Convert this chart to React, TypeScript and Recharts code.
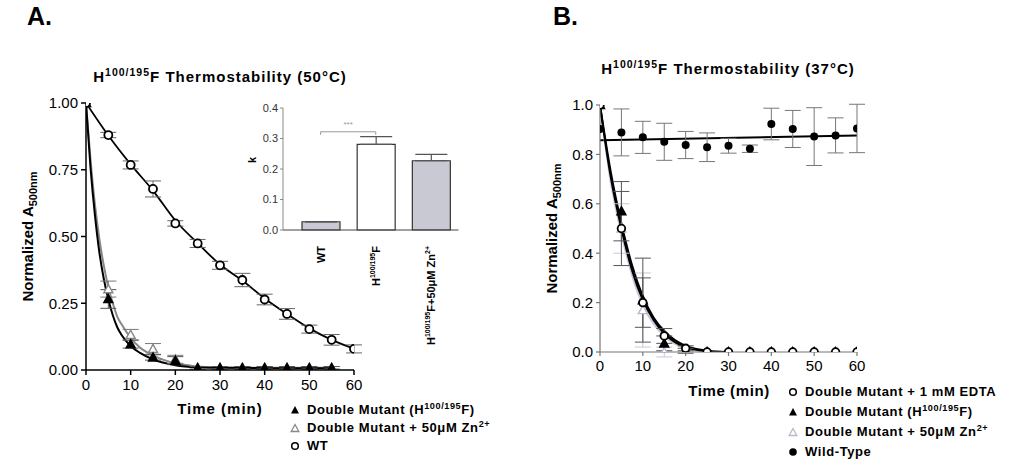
import React from 'react';
import {
  ComposedChart, BarChart, Bar, Cell, Line, Scatter, XAxis, YAxis,
  ErrorBar, ReferenceLine, Label,
} from 'recharts';

const FONT = "Arial, 'Liberation Sans', Helvetica, sans-serif";

// ---- Panel A: 50 °C ----
const timeA = [0, 5, 10, 15, 20, 25, 30, 35, 40, 45, 50, 55, 60];
const wtA = [1.0, 0.88, 0.768, 0.678, 0.549, 0.474, 0.392, 0.337, 0.264, 0.21, 0.153, 0.113, 0.079];
const wtAErr = [0, 0.01, 0.015, 0.03, 0.01, 0.015, 0.015, 0.025, 0.02, 0.02, 0.015, 0.02, 0.015];
const wtAFit = [1.0, 0.878, 0.77, 0.672, 0.56, 0.475, 0.395, 0.335, 0.268, 0.21, 0.156, 0.113, 0.08];

const timeMutA = [0, 5, 10, 15, 20, 25, 30, 35, 40, 45, 50, 55];
const dmA = [1.0, 0.266, 0.097, 0.047, 0.035, 0.008, 0.008, 0.008, 0.008, 0.008, 0.008, 0.008];
const dmAErr = [0, 0.035, 0.015, 0.01, 0.015, 0.005, 0.005, 0.005, 0.005, 0.005, 0.005, 0.005];
const znA = [1.0, 0.303, 0.132, 0.079, 0.04, 0.008, 0.008, 0.008, 0.008, 0.008, 0.008, 0.008];
const znAErr = [0, 0.03, 0.02, 0.02, 0.015, 0.005, 0.005, 0.005, 0.005, 0.005, 0.005, 0.005];

// fitted decay curves
const fitTimeA = [0, 1, 2, 3, 4, 5, 6, 7, 8, 10, 12, 15, 20, 25, 30, 40, 55];
const fitDmA = [1, 0.76, 0.58, 0.44, 0.34, 0.265, 0.205, 0.16, 0.13, 0.09, 0.065, 0.04, 0.018, 0.01, 0.008, 0.007, 0.007];
const fitZnA = [1, 0.79, 0.62, 0.49, 0.39, 0.31, 0.25, 0.2, 0.17, 0.12, 0.085, 0.055, 0.025, 0.013, 0.009, 0.008, 0.008];

// ---- inset: rate constants ----
const barCats = ['WT', 'H100/195F', 'H100/195F+Zn'];
const barK = [0.027, 0.281, 0.227];
const barErr = [0, 0.025, 0.021];

// ---- Panel B: 37 °C ----
const timeB = [0, 5, 10, 15, 20, 25, 30, 35, 40, 45, 50, 55, 60];
const wtB = [0.903, 0.889, 0.869, 0.851, 0.838, 0.829, 0.835, 0.823, 0.923, 0.903, 0.872, 0.877, 0.905];
const wtBErr = [0, 0.095, 0.065, 0.075, 0.055, 0.058, 0.03, 0.015, 0.064, 0.075, 0.117, 0.071, 0.098];
const edtaB = [1.0, 0.5, 0.2, 0.065, 0.015, 0, 0, 0, 0, 0, 0, 0, 0];
const edtaBErr = [0, 0.15, 0.1, 0.03, 0.01, 0, 0, 0, 0, 0, 0, 0, 0];
const dmB = [1.0, 0.57, 0.21, 0.035, 0.005, 0, 0, 0, 0, 0, 0, 0, 0];
const dmBErr = [0, 0.12, 0.17, 0.03, 0.01, 0, 0, 0, 0, 0, 0, 0, 0];
const znB = [1.0, 0.5, 0.17, 0, 0, 0, 0, 0, 0, 0, 0, 0, 0];
const znBErr = [0, 0.1, 0.15, 0.02, 0, 0, 0, 0, 0, 0, 0, 0, 0];

const fitTimeB = [0, 2.5, 5, 7.5, 10, 12.5, 15, 17.5, 20, 22.5, 25, 27.5, 30];
const fitEdtaB = [1, 0.71, 0.5, 0.33, 0.21, 0.13, 0.075, 0.04, 0.02, 0.009, 0.003, 0.001, 0];
const fitDmB = [1, 0.73, 0.52, 0.35, 0.225, 0.14, 0.085, 0.048, 0.025, 0.012, 0.005, 0.001, 0];
const fitZnB = [1, 0.69, 0.48, 0.31, 0.19, 0.115, 0.065, 0.033, 0.015, 0.006, 0.002, 0, 0];
const fitWtTimeB = [0, 60];
const fitWtB = [0.857, 0.877];

const rows = (xs: number[], ys: number[], es?: number[]) =>
  xs.map((t, i) => ({ t, y: ys[i], e: es ? es[i] : 0 }));

const barRows = barCats.map((name, i) => ({ name, k: barK[i], err: [0, barErr[i]] }));
const barFills = ['#c9c9d3', '#ffffff', '#c9c9d3'];

// marker shapes
const openCircle = (stroke: string, r = 4) => (p: any) =>
  <circle cx={p.cx} cy={p.cy} r={r} fill="#fff" stroke={stroke} strokeWidth={1.8} />;
const dot = (r = 4) => (p: any) => <circle cx={p.cx} cy={p.cy} r={r} fill="#000" />;
const tri = (fill: string, stroke: string, s = 4.5) => (p: any) => (
  <path d={`M${p.cx},${p.cy - s} L${p.cx + s},${p.cy + s * 0.8} L${p.cx - s},${p.cy + s * 0.8} Z`}
    fill={fill} stroke={stroke} strokeWidth={1.4} />
);

const yLabel = (x: number, cy: number) => (
  <text x={x} y={cy} transform={`rotate(-90 ${x} ${cy})`} textAnchor="middle"
    fontFamily={FONT} fontWeight="bold" fontSize={15} fill="#000">
    Normalized A<tspan fontSize={11} dy={4}>500nm</tspan>
  </text>
);

const Sup = ({ children }: { children: React.ReactNode }) => (
  <span style={{ fontSize: '0.7em', verticalAlign: 'super', lineHeight: 0 }}>{children}</span>
);

const BarTick = (p: any) => {
  const { x, y, payload } = p;
  const common = { textAnchor: 'end' as const, fontFamily: FONT, fontWeight: 'bold', fontSize: 11, fill: '#000', dy: 4 };
  let content: React.ReactNode = 'WT';
  if (payload.value === 'H100/195F') {
    content = <>H<tspan dy={-5} fontSize={7}>100/195</tspan><tspan dy={5}>F</tspan></>;
  } else if (payload.value === 'H100/195F+Zn') {
    content = <>H<tspan dy={-5} fontSize={7}>100/195</tspan><tspan dy={5}>F+50μM Zn</tspan><tspan dy={-5} fontSize={7}>2+</tspan></>;
  }
  return (
    <g transform={`translate(${x},${y + 8}) rotate(-90)`}>
      <text x={0} y={0} {...common}>{content}</text>
    </g>
  );
};

type LegendItem = { icon: React.ReactNode; label: React.ReactNode };
const LegendBox = ({ items, rowH, left, top }: { items: LegendItem[]; rowH: number; left: number; top: number }) => (
  <div style={{ position: 'absolute', left, top, fontFamily: FONT, fontWeight: 'bold', fontSize: 13, letterSpacing: 0.6, color: '#000' }}>
    {items.map((it, i) => (
      <div key={i} style={{ display: 'flex', alignItems: 'center', height: rowH, lineHeight: `${rowH}px`, whiteSpace: 'nowrap' }}>
        <svg width={10} height={10} style={{ marginRight: 7 }}>{it.icon}</svg>
        <span>{it.label}</span>
      </div>
    ))}
  </div>
);

const legendA: LegendItem[] = [
  { icon: <path d="M5,1 L9,8.5 L1,8.5 Z" fill="#000" />, label: <>Double Mutant (H<Sup>100/195</Sup>F)</> },
  { icon: <path d="M5,1.5 L8.8,8.5 L1.2,8.5 Z" fill="#fff" stroke="#888" strokeWidth={1.3} />, label: <>Double Mutant + 50μM Zn<Sup>2+</Sup></> },
  { icon: <circle cx={5} cy={5} r={3.3} fill="#fff" stroke="#000" strokeWidth={1.5} />, label: 'WT' },
];

const legendB: LegendItem[] = [
  { icon: <circle cx={5} cy={5} r={3.3} fill="#fff" stroke="#000" strokeWidth={1.5} />, label: 'Double Mutant + 1 mM EDTA' },
  { icon: <path d="M5,1 L9,8.5 L1,8.5 Z" fill="#000" />, label: <>Double Mutant (H<Sup>100/195</Sup>F)</> },
  { icon: <path d="M5,1.5 L8.8,8.5 L1.2,8.5 Z" fill="#fff" stroke="#b8b8cc" strokeWidth={1.3} />, label: <>Double Mutant + 50μM Zn<Sup>2+</Sup></> },
  { icon: <circle cx={5} cy={5} r={3.8} fill="#000" />, label: 'Wild-Type' },
];

const axisTick = { fill: '#000', fontSize: 15, fontFamily: FONT };

const abs = (left: number, top: number, extra: React.CSSProperties = {}): React.CSSProperties =>
  ({ position: 'absolute', left, top, fontFamily: FONT, fontWeight: 'bold', color: '#000', whiteSpace: 'nowrap', ...extra });

export default function App() {
  return (
    <div style={{ position: 'absolute', left: 0, top: 0, width: 1013, height: 467, background: '#fff', overflow: 'hidden' }}>
      {/* Panel A */}
      <div style={{ position: 'absolute', left: 0, top: 0 }}>
        <ComposedChart width={520} height={467} margin={{ top: 103, right: 166, bottom: 67, left: 36 }}>
          <XAxis type="number" dataKey="t" domain={[0, 60]} ticks={[0, 10, 20, 30, 40, 50, 60]} height={30}
            tickSize={5} tickMargin={4} stroke="#000" strokeWidth={1.5} tick={axisTick} allowDataOverflow />
          <YAxis type="number" domain={[0, 1]} ticks={[0, 0.25, 0.5, 0.75, 1]} width={50}
            tickFormatter={(v: number) => v.toFixed(2)} tickSize={5} tickMargin={3} stroke="#000" strokeWidth={1.5}
            tick={axisTick} allowDataOverflow>
            <Label content={() => yLabel(33, 236.5)} />
          </YAxis>
          <Line data={rows(fitTimeA, fitZnA)} dataKey="y" type="monotone" stroke="#888" strokeWidth={2} dot={false} isAnimationActive={false} />
          <Line data={rows(fitTimeA, fitDmA)} dataKey="y" type="monotone" stroke="#000" strokeWidth={2} dot={false} isAnimationActive={false} />
          <Line data={rows(timeA, wtAFit)} dataKey="y" type="monotone" stroke="#000" strokeWidth={1.8} dot={false} isAnimationActive={false} />
          <Scatter data={rows(timeMutA, znA, znAErr)} dataKey="y" shape={tri('#fff', '#888')} isAnimationActive={false}>
            <ErrorBar dataKey="e" direction="y" width={8} stroke="#777" strokeWidth={1} />
          </Scatter>
          <Scatter data={rows(timeMutA, dmA, dmAErr)} dataKey="y" shape={tri('#000', '#000')} isAnimationActive={false}>
            <ErrorBar dataKey="e" direction="y" width={8} stroke="#555" strokeWidth={1} />
          </Scatter>
          <Scatter data={rows(timeA, wtA, wtAErr)} dataKey="y" shape={openCircle('#000')} isAnimationActive={false}>
            <ErrorBar dataKey="e" direction="y" width={8} stroke="#666" strokeWidth={1} />
          </Scatter>
        </ComposedChart>
      </div>

      {/* Inset bar chart */}
      <div style={{ position: 'absolute', left: 240, top: 90 }}>
        <BarChart width={240} height={320} data={barRows} margin={{ top: 18, right: 21.5, bottom: 10, left: 0 }} barSize={38}>
          <XAxis dataKey="name" height={170} interval={0} tick={<BarTick />} tickLine={false} stroke="#444" padding={{ left: 10, right: 0 }} />
          <YAxis domain={[0, 0.4]} ticks={[0, 0.1, 0.2, 0.3, 0.4]} width={43} tickFormatter={(v: number) => v.toFixed(1)}
            tickSize={3} tickMargin={2} stroke="#888" tick={{ fill: '#333', fontSize: 11, fontFamily: FONT }}>
            <Label content={() => (
              <text x={16} y={70} transform="rotate(-90 16 70)" textAnchor="middle" fontFamily={FONT} fontWeight="bold" fontSize={11}>k</text>
            )} />
          </YAxis>
          <ReferenceLine segment={[{ x: 'WT', y: 0.322 }, { x: 'H100/195F', y: 0.322 }]} stroke="#999" strokeWidth={1}
            label={{ value: '***', position: 'top', fontSize: 8, fill: '#999', fontFamily: FONT }} />
          <ReferenceLine segment={[{ x: 'WT', y: 0.322 }, { x: 'WT', y: 0.312 }]} stroke="#999" strokeWidth={1} />
          <ReferenceLine segment={[{ x: 'H100/195F', y: 0.322 }, { x: 'H100/195F', y: 0.312 }]} stroke="#999" strokeWidth={1} />
          <Bar dataKey="k" stroke="#333" strokeWidth={1.2} isAnimationActive={false}>
            {barRows.map((r, i) => <Cell key={r.name} fill={barFills[i]} />)}
            <ErrorBar dataKey="err" direction="y" width={16} stroke="#555" strokeWidth={1.2} />
          </Bar>
        </BarChart>
      </div>

      {/* Panel B */}
      <div style={{ position: 'absolute', left: 520, top: 0 }}>
        <ComposedChart width={493} height={467} margin={{ top: 105, right: 156, bottom: 85, left: 30 }}>
          <XAxis type="number" dataKey="t" domain={[0, 60]} ticks={[0, 10, 20, 30, 40, 50, 60]} height={30}
            tickSize={4} tickMargin={4} stroke="#777" strokeWidth={1.2} tick={axisTick} allowDataOverflow />
          <YAxis type="number" domain={[0, 1]} ticks={[0, 0.2, 0.4, 0.6, 0.8, 1]} width={50}
            tickFormatter={(v: number) => v.toFixed(1)} tickSize={4} tickMargin={3} stroke="#777" strokeWidth={1.2}
            tick={axisTick} allowDataOverflow>
            <Label content={() => yLabel(37, 228.5)} />
          </YAxis>
          <Line data={rows(fitWtTimeB, fitWtB)} dataKey="y" type="linear" stroke="#000" strokeWidth={2} dot={false} isAnimationActive={false} />
          <Line data={rows(fitTimeB, fitZnB)} dataKey="y" type="monotone" stroke="#c8c8dc" strokeWidth={2} dot={false} isAnimationActive={false} />
          <Line data={rows(fitTimeB, fitDmB)} dataKey="y" type="monotone" stroke="#000" strokeWidth={2} dot={false} isAnimationActive={false} />
          <Line data={rows(fitTimeB, fitEdtaB)} dataKey="y" type="monotone" stroke="#000" strokeWidth={2} dot={false} isAnimationActive={false} />
          <Scatter data={rows(timeB, znB, znBErr)} dataKey="y" shape={tri('#fff', '#b8b8cc')} isAnimationActive={false}>
            <ErrorBar dataKey="e" direction="y" width={8} stroke="#c8c8d8" strokeWidth={1} />
          </Scatter>
          <Scatter data={rows(timeB, dmB, dmBErr)} dataKey="y" shape={tri('#000', '#000')} isAnimationActive={false}>
            <ErrorBar dataKey="e" direction="y" width={8} stroke="#555" strokeWidth={1} />
          </Scatter>
          <Scatter data={rows(timeB, edtaB, edtaBErr)} dataKey="y" shape={openCircle('#000', 3.8)} isAnimationActive={false}>
            <ErrorBar dataKey="e" direction="y" width={8} stroke="#555" strokeWidth={1} />
          </Scatter>
          <Scatter data={rows(timeB, wtB, wtBErr)} dataKey="y" shape={dot(4)} isAnimationActive={false}>
            <ErrorBar dataKey="e" direction="y" width={8} stroke="#777" strokeWidth={1} />
          </Scatter>
        </ComposedChart>
      </div>

      <LegendBox items={legendA} rowH={18} left={290} top={400.5} />
      <LegendBox items={legendB} rowH={20} left={788} top={381.5} />

      {/* titles and axis captions */}
      <div style={abs(27, 4, { fontSize: 25, lineHeight: '25px' })}>A.</div>
      <div style={abs(553, 4, { fontSize: 25, lineHeight: '25px' })}>B.</div>
      <div style={abs(220, 69, { fontSize: 15, lineHeight: '15px', letterSpacing: 1, transform: 'translateX(-50%)' })}>
        H<Sup>100/195</Sup>F Thermostability (50°C)
      </div>
      <div style={abs(728, 61, { fontSize: 15, lineHeight: '15px', letterSpacing: 1, transform: 'translateX(-50%)' })}>
        H<Sup>100/195</Sup>F Thermostability (37°C)
      </div>
      <div style={abs(220, 401, { fontSize: 15, lineHeight: '15px', letterSpacing: 1, transform: 'translateX(-50%)' })}>Time (min)</div>
      <div style={abs(729, 383, { fontSize: 15, lineHeight: '15px', letterSpacing: 0.6, transform: 'translateX(-50%)' })}>Time (min)</div>
    </div>
  );
}
